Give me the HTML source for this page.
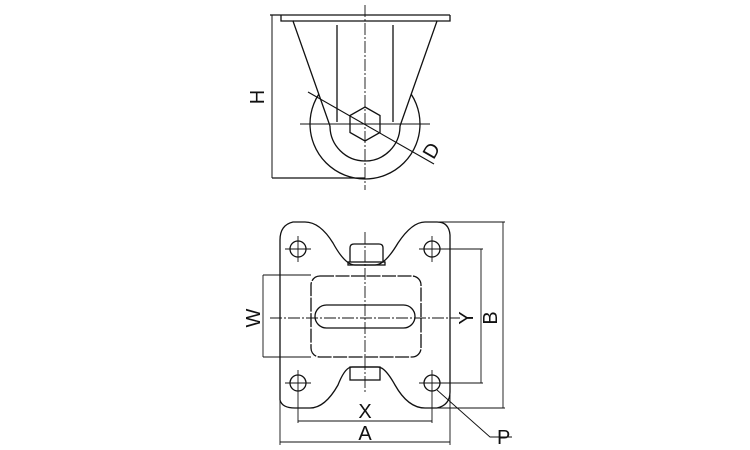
<!DOCTYPE html>
<html><head><style>body{margin:0;background:#fff}svg{display:block}</style></head><body>
<svg width="750" height="450" viewBox="0 0 750 450" xmlns="http://www.w3.org/2000/svg" font-family="Liberation Sans, sans-serif">
<g stroke="#111" fill="none" stroke-width="1.3">
<!-- top view -->
<circle cx="365" cy="124" r="55"/>
<polygon points="293,21 437,21 400,126 330,126" fill="#fff" stroke="none"/>
<line x1="270" y1="15" x2="450" y2="15"/>
<path d="M281,15 V21 H293 L330,126"/>
<path d="M450,15 V21 H437 L400,126"/>
<line x1="293" y1="21" x2="437" y2="21"/>
<line x1="337" y1="25" x2="337" y2="122"/>
<line x1="393" y1="25" x2="393" y2="122"/>
<path d="M330,126 A35,35 0 0 0 400,126"/>
<polygon points="365,107 380,115.5 380,132.5 365,141 350,132.5 350,115.5"/>
<line x1="272" y1="178" x2="365" y2="178"/>
<line x1="272" y1="15" x2="272" y2="178" stroke-width="1"/>
<line x1="308" y1="92" x2="434" y2="164" stroke-width="1.1"/>
<!-- bottom view outline -->
<path d="M293,222 Q280,225 280,240 V400 Q282,408 295,408 H310 Q325,408 338,385 Q345,367 352,367 H378 Q385,367 395,385 Q408,408 425,408 H437 Q450,405 450,392 V235 Q449,222 437,222 H425 Q412,222 398,243 Q385,265 375,265 H355 Q345,265 333,243 Q320,222 305,222 Z"/>
<path d="M350,262 V248 Q350,244 354,244 H379 Q383,244 383,248 V262"/>
<rect x="348" y="262" width="37" height="3"/>
<rect x="350" y="367" width="30" height="13"/>
<rect x="311" y="276" width="110" height="81" rx="9" stroke-dasharray="14 1.5"/>
<rect x="315" y="305" width="100" height="23" rx="11.5"/>
<circle cx="298" cy="249" r="8"/><circle cx="432" cy="249" r="8"/>
<circle cx="298" cy="383" r="8"/><circle cx="432" cy="383" r="8"/>
</g>
<g stroke="#111" fill="none" stroke-width="0.9">
<line x1="365" y1="5" x2="365" y2="190" stroke-dasharray="12 2 2 2"/>
<line x1="300" y1="124" x2="430" y2="124"/>
<line x1="365" y1="232" x2="365" y2="392" stroke-dasharray="12 2 2 2"/>
<line x1="270" y1="318" x2="460" y2="318" stroke-dasharray="12 2 2 2"/>
<path d="M285,249 H311 M298,236 V262 M419,249 H445 M432,236 V262 M285,383 H311 M298,370 V396 M419,383 H445 M432,370 V396"/>
<path d="M263,275 H311 M263,357 H311 M263,275 V357"/>
<path d="M432,222 H505 M432,408 H505 M503,222 V408"/>
<path d="M432,249 H483 M432,383 H483 M481,249 V383"/>
<path d="M298,396 V423 M432,396 V423 M298,421 H432"/>
<path d="M280,395 V445 M450,395 V445 M280,442 H450"/>
<path d="M437,390 L490,437 H512"/>
</g>
<g fill="#111" font-size="20">
<text x="258" y="97" transform="rotate(-90 258 97)" text-anchor="middle" dominant-baseline="central">H</text>
<text x="432" y="151" transform="rotate(-60 432 151)" text-anchor="middle" dominant-baseline="central">D</text>
<text x="254" y="318" transform="rotate(-90 254 318)" text-anchor="middle" dominant-baseline="central">W</text>
<text x="467" y="318" transform="rotate(-90 467 318)" text-anchor="middle" dominant-baseline="central">Y</text>
<text x="491" y="318" transform="rotate(-90 491 318)" text-anchor="middle" dominant-baseline="central">B</text>
<text x="365" y="418" text-anchor="middle">X</text>
<text x="365" y="440" text-anchor="middle">A</text>
<text x="497" y="444">P</text>
</g>
</svg>
</body></html>
